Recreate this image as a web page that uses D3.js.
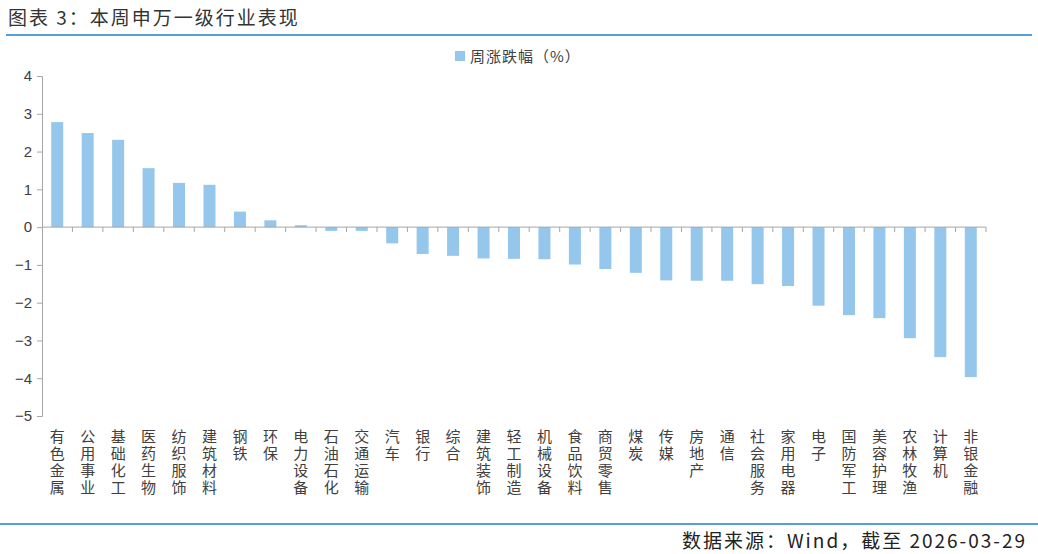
<!DOCTYPE html>
<html>
<head>
<meta charset="utf-8">
<script src="https://cdn.jsdelivr.net/npm/d3@7"></script>
<style>
    body { margin: 0; background: #fff; font-family: "Noto Sans CJK SC", "Noto Sans", sans-serif; }
    .axis path, .axis line { stroke: #a6a6a6; }
    .axis text { fill: #404040; font-size: 15px; font-family: "Liberation Sans", "Noto Sans", sans-serif; }
    .cat-label { fill: #404040; font-size: 15px; writing-mode: vertical-rl; letter-spacing: 2px; }
</style>
</head>
<body>
<svg id="chart"></svg>
<script>
const categories = ["有色金属", "公用事业", "基础化工", "医药生物", "纺织服饰", "建筑材料", "钢铁", "环保",
    "电力设备", "石油石化", "交通运输", "汽车", "银行", "综合", "建筑装饰", "轻工制造", "机械设备",
    "食品饮料", "商贸零售", "煤炭", "传媒", "房地产", "通信", "社会服务", "家用电器", "电子",
    "国防军工", "美容护理", "农林牧渔", "计算机", "非银金融"];
const weeklyChange = [2.78, 2.49, 2.31, 1.56, 1.17, 1.12, 0.41, 0.18, 0.05, -0.10, -0.10, -0.43, -0.71,
    -0.76, -0.83, -0.84, -0.85, -0.99, -1.11, -1.21, -1.41, -1.42, -1.42, -1.51, -1.56, -2.08, -2.33,
    -2.41, -2.94, -3.44, -3.97];
const yTicks = [4, 3, 2, 1, 0, -1, -2, -3, -4, -5];
const seriesName = "周涨跌幅（%）";
const titleText = "图表 3：本周申万一级行业表现";
const sourceText = "数据来源：Wind，截至 2026-03-29";

const W = 1038, H = 554;
const barColor = "#95c6eb";
const lineBlue = "#1f7fcf";

const svg = d3.select("#chart").attr("width", W).attr("height", H);

// Title and rules
svg.append("text")
    .attr("x", 8).attr("y", 25)
    .attr("font-size", 19).attr("fill", "#333")
    .attr("letter-spacing", 2)
    .text(titleText);
svg.append("line")
    .attr("x1", 6).attr("x2", 1032).attr("y1", 35).attr("y2", 35)
    .attr("stroke", lineBlue).attr("stroke-width", 1.5);
svg.append("line")
    .attr("x1", 0).attr("x2", 1038).attr("y1", 524).attr("y2", 524)
    .attr("stroke", lineBlue).attr("stroke-width", 1.5);
svg.append("text")
    .attr("x", 1027).attr("y", 548)
    .attr("text-anchor", "end")
    .attr("font-size", 19).attr("fill", "#222")
    .attr("letter-spacing", 2)
    .text(sourceText);

// Scales
const plot = { left: 42, right: 986, top: 76, bottom: 416 };

const x = d3.scaleBand()
    .domain(categories)
    .range([plot.left, plot.right]);

const y = d3.scaleLinear()
    .domain([-5, 4])
    .range([plot.bottom, plot.top]);

// Y axis
svg.append("g")
    .attr("class", "axis")
    .attr("transform", `translate(${plot.left},0)`)
    .call(d3.axisLeft(y).tickValues(yTicks).tickSize(5).tickPadding(5).tickSizeOuter(5));

// Bars
svg.append("g")
    .selectAll("rect")
    .data(weeklyChange)
    .join("rect")
    .attr("x", (d, i) => x(categories[i]) + x.bandwidth() / 2 - 6)
    .attr("width", 12)
    .attr("y", d => y(Math.max(0, d)))
    .attr("height", d => Math.abs(y(d) - y(0)))
    .attr("fill", barColor);

// X axis at zero, ticks at band boundaries
const xAxis = svg.append("g").attr("class", "axis");
xAxis.append("line")
    .attr("x1", plot.left).attr("x2", plot.right)
    .attr("y1", y(0)).attr("y2", y(0));
xAxis.selectAll("line.tick")
    .data(categories)
    .join("line")
    .attr("class", "tick")
    .attr("x1", d => x(d) + x.bandwidth())
    .attr("x2", d => x(d) + x.bandwidth())
    .attr("y1", y(0)).attr("y2", y(0) + 5);

// Category labels, written top to bottom
svg.append("g")
    .selectAll("text")
    .data(categories)
    .join("text")
    .attr("class", "cat-label")
    .attr("x", d => x(d) + x.bandwidth() / 2)
    .attr("y", 429)
    .text(d => d);

// Legend
const legend = svg.append("g").attr("transform", "translate(455,51)");
legend.append("rect").attr("width", 10).attr("height", 10).attr("fill", barColor);
legend.append("text")
    .attr("x", 15).attr("y", 11)
    .attr("font-size", 15).attr("fill", "#404040")
    .attr("letter-spacing", 1)
    .text(seriesName);
</script>
</body>
</html>
